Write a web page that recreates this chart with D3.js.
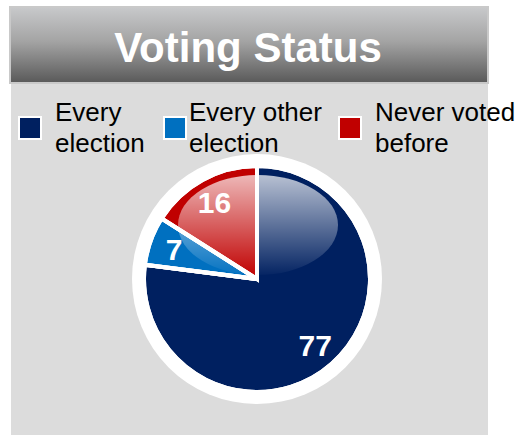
<!DOCTYPE html>
<meta charset="utf-8">
<script src="https://d3js.org/d3.v7.min.js"></script>
<style>
   body {
      background-color: white;
      margin: 0;
      padding: 0;
      font-family: "Liberation Sans", Arial, sans-serif;
   }
</style>
<body>
<svg id="chart" width="517" height="435"></svg>
<script>

   // data
   var categories = ["Every election", "Every other election", "Never voted before"]
   var legendLines = [["Every", "election"], ["Every other", "election"], ["Never voted", "before"]]
   var values = [77, 7, 16]
   var colors = ["#002060", "#0070c0", "#c00000"]
   var title = "Voting Status"

   var svg = d3.select("#chart"),
      width = +svg.attr("width"),
      height = +svg.attr("height");

   var defs = svg.append("defs")

   // title bar gradient
   var tg = defs.append("linearGradient").attr("id", "titleGrad")
      .attr("x1", 0).attr("y1", 0).attr("x2", 0).attr("y2", 1)
   tg.append("stop").attr("offset", "0%").attr("stop-color", "#c8c9cb")
   tg.append("stop").attr("offset", "45%").attr("stop-color", "#a4a4a4")
   tg.append("stop").attr("offset", "100%").attr("stop-color", "#595959")

   // gloss gradient
   var gg = defs.append("linearGradient").attr("id", "glossGrad")
      .attr("x1", 0).attr("y1", 0).attr("x2", 0).attr("y2", 1)
   gg.append("stop").attr("offset", "0%").attr("stop-color", "#fff").attr("stop-opacity", 0.72)
   gg.append("stop").attr("offset", "100%").attr("stop-color", "#fff").attr("stop-opacity", 0.02)

   // panel
   svg.append("rect")
      .attr("x", 11).attr("y", 83)
      .attr("width", 477).attr("height", 352)
      .attr("fill", "#dcdcdc")

   // title bar
   svg.append("rect")
      .attr("x", 10).attr("y", 7)
      .attr("width", 478).attr("height", 76)
      .attr("fill", "url(#titleGrad)")
      .attr("stroke", "#c9c9c9")
      .attr("stroke-width", 2)

   svg.append("text")
      .attr("x", 248).attr("y", 62)
      .attr("text-anchor", "middle")
      .attr("fill", "white")
      .style("font-size", "42px")
      .style("font-weight", "bold")
      .text(title)

   // legend
   var legendX = [18, 163, 338]
   var legendTextX = [55, 189, 375]
   var legend = svg.append("g").selectAll("g")
      .data(categories)
      .enter()
      .append("g")

   legend.append("rect")
      .attr("x", function (d, i) { return legendX[i] + 1 }).attr("y", 117)
      .attr("width", 22).attr("height", 22)
      .attr("fill", function (d, i) { return colors[i] })
      .attr("stroke", "white")
      .attr("stroke-width", 2)

   legend.append("text")
      .style("font-size", "26px")
      .attr("fill", "black")
      .each(function (d, i) {
         var t = d3.select(this)
         legendLines[i].forEach(function (line, j) {
            t.append("tspan").attr("x", legendTextX[i]).attr("y", 121 + j * 30.5).text(line)
         })
      })

   // pie
   var cx = 257, cy = 279, r = 113

   var g = svg.append("g").attr("transform", "translate(" + cx + "," + cy + ")")

   g.append("circle").attr("r", 125).attr("fill", "white")

   var pie = d3.pie().sort(null).value(function (d) { return d })
   var arc = d3.arc().innerRadius(0).outerRadius(r)
   var labelArc = d3.arc().innerRadius(r * 0.78).outerRadius(r * 0.78)

   var arcs = pie(values)

   g.selectAll("path.slice")
      .data(arcs)
      .enter()
      .append("path")
      .attr("class", "slice")
      .attr("d", arc)
      .attr("fill", function (d, i) { return colors[i] })
      .attr("stroke", "white")
      .attr("stroke-width", 4)
      .attr("stroke-linejoin", "miter")

   // glossy highlight clipped to the pie
   defs.append("clipPath").attr("id", "pieClip")
      .append("circle").attr("r", r - 2)

   g.append("ellipse")
      .attr("cx", 1).attr("cy", -54)
      .attr("rx", 80).attr("ry", 50)
      .attr("fill", "url(#glossGrad)")
      .attr("clip-path", "url(#pieClip)")

   // redraw the white separators over the gloss
   g.selectAll("path.sep")
      .data(arcs)
      .enter()
      .append("path")
      .attr("class", "sep")
      .attr("d", arc)
      .attr("fill", "none")
      .attr("stroke", "white")
      .attr("stroke-width", 4)

   g.selectAll("text.lbl")
      .data(arcs)
      .enter()
      .append("text")
      .attr("class", "lbl")
      .attr("transform", function (d) { var c = labelArc.centroid(d); return "translate(" + c[0] + "," + (c[1] + 11) + ")" })
      .attr("text-anchor", "middle")
      .attr("fill", "white")
      .style("font-size", "30px")
      .style("font-weight", "bold")
      .text(function (d) { return d.data })

</script>
</body>
